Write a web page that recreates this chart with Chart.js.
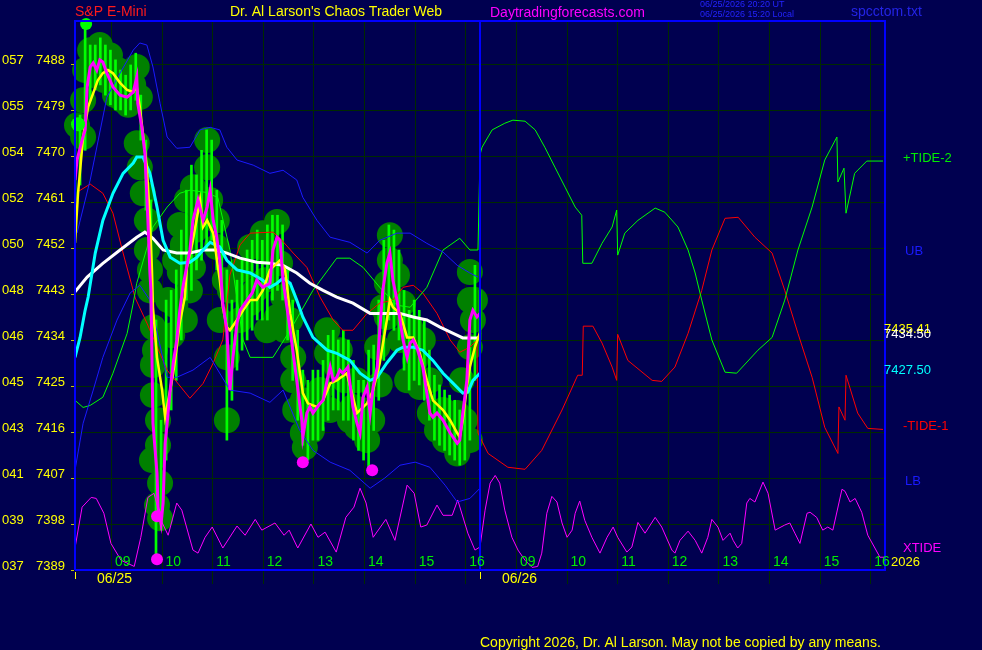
<!DOCTYPE html>
<html>
<head>
<meta charset="utf-8">
<title>S&amp;P E-Mini - Chaos Trader Web</title>
<script src="https://cdn.jsdelivr.net/npm/chart.js@4.4.1/dist/chart.umd.min.js"></script>
<style>
  html, body { margin: 0; padding: 0; background: #000050; overflow: hidden; }
  canvas { display: block; }
</style>
</head>
<body>
<canvas id="chaos" width="982" height="650"></canvas>
<script>
// axis ticks
var priceTicks = [7389, 7398, 7407, 7416, 7425, 7434, 7443, 7452, 7461, 7470, 7479, 7488];
var altTicks = ["037", "039", "041", "043", "045", "046", "048", "050", "052", "054", "055", "057"];
var gridHours = [0.71, 1.71, 2.71, 3.71, 4.71, 5.71, 6.71, 7.71, 8.71, 9.71, 10.71, 11.71, 12.71, 13.71, 14.71, 15.71];
var hourLabels = ["09", "10", "11", "12", "13", "14", "15", "16", "09", "10", "11", "12", "13", "14", "15", "16"];
var dayStarts = [0, 8];
var dayLabels = ["06/25", "06/26"];

// price (magenta), moving averages (yellow, cyan, white)
var closeT = [0.00, 0.04, 0.14, 0.20, 0.24, 0.30, 0.36, 0.43, 0.49, 0.55, 0.63, 0.75, 0.89, 1.03, 1.15, 1.22, 1.24, 1.32, 1.38, 1.44,
  1.48, 1.50, 1.54, 1.62, 1.64, 1.70, 1.74, 1.78, 1.82, 1.88, 1.94, 2.01, 2.07, 2.13, 2.27, 2.33, 2.43, 2.53, 2.61, 2.67,
  2.73, 2.80, 2.86, 2.92, 3.00, 3.06, 3.12, 3.20, 3.26, 3.40, 3.50, 3.59, 3.71, 3.85, 3.91, 3.99, 4.05, 4.11, 4.25, 4.38,
  4.48, 4.50, 4.58, 4.64, 4.70, 4.84, 4.90, 4.98, 5.04, 5.10, 5.17, 5.23, 5.29, 5.39, 5.49, 5.57, 5.63, 5.69, 5.77, 5.83,
  5.89, 5.97, 6.02, 6.08, 6.16, 6.22, 6.28, 6.36, 6.48, 6.56, 6.62, 6.68, 6.75, 6.87, 6.95, 7.01, 7.07, 7.15, 7.27, 7.41,
  7.55, 7.60, 7.66, 7.74, 7.80, 7.86, 7.94, 8.00];
var closeP = [7465.3, 7469.2, 7473.1, 7475.1, 7483.5, 7487.4, 7488.2, 7486.8, 7488.8, 7488.4, 7486.2, 7483.5, 7481.9, 7481.5, 7482.5, 7485.4, 7480.3, 7475.6, 7470.6, 7457.4,
  7447.1, 7443.7, 7417.7, 7407.9, 7401.3, 7398.1, 7402.1, 7413.8, 7417.7, 7424.2, 7429.5, 7434.0, 7439.8, 7444.3, 7451.6, 7457.4, 7461.4, 7457.4, 7460.0, 7463.3,
  7457.4, 7454.1, 7449.6, 7441.2, 7435.9, 7424.2, 7430.6, 7437.3, 7439.8, 7441.8, 7443.2, 7445.7, 7444.3, 7445.1, 7451.6, 7454.1, 7453.5, 7445.7, 7435.9, 7426.1,
  7418.3, 7415.0, 7419.7, 7420.9, 7419.7, 7421.6, 7422.2, 7426.1, 7428.7, 7426.1, 7426.7, 7428.1, 7427.5, 7428.7, 7420.9, 7417.7, 7415.8, 7422.8, 7424.8, 7419.7,
  7424.8, 7428.7, 7435.9, 7443.7, 7449.0, 7451.0, 7445.7, 7441.8, 7434.0, 7430.6, 7433.4, 7434.0, 7432.6, 7428.7, 7423.6, 7419.7, 7418.9, 7419.7, 7418.3, 7415.8,
  7413.8, 7414.4, 7419.7, 7426.1, 7437.9, 7439.8, 7438.5, 7439.2];

var fastT = [0.00, 0.06, 0.16, 0.26, 0.36, 0.45, 0.55, 0.65, 0.75, 0.89, 1.03, 1.15, 1.22, 1.28, 1.34, 1.42, 1.48, 1.52, 1.54, 1.62,
  1.72, 1.78, 1.88, 1.94, 2.01, 2.07, 2.17, 2.21, 2.33, 2.47, 2.53, 2.61, 2.73, 2.86, 2.92, 3.00, 3.06, 3.20, 3.32, 3.46,
  3.59, 3.71, 3.85, 4.05, 4.15, 4.25, 4.38, 4.50, 4.60, 4.78, 4.90, 5.04, 5.17, 5.37, 5.57, 5.77, 5.89, 6.02, 6.16, 6.22,
  6.28, 6.42, 6.56, 6.68, 6.81, 6.95, 7.07, 7.27, 7.41, 7.55, 7.60, 7.66, 7.74, 7.80, 7.90, 8.00];
var fastP = [7453.0, 7462.7, 7473.7, 7479.6, 7482.3, 7484.8, 7486.2, 7486.8, 7486.2, 7484.3, 7482.9, 7482.5, 7483.5, 7479.6, 7474.5, 7467.8, 7457.4, 7447.7, 7440.4, 7430.6,
  7424.2, 7418.9, 7424.2, 7427.5, 7432.6, 7437.3, 7442.4, 7448.2, 7453.5, 7461.4, 7456.1, 7457.4, 7454.9, 7445.7, 7440.4, 7436.5, 7435.9, 7437.9, 7439.8, 7441.8,
  7441.8, 7443.7, 7447.7, 7449.6, 7447.7, 7439.2, 7432.0, 7423.6, 7421.6, 7420.9, 7422.2, 7425.5, 7426.1, 7427.5, 7419.7, 7421.6, 7424.2, 7429.5, 7437.9, 7441.8,
  7440.4, 7439.2, 7434.5, 7434.5, 7431.4, 7426.1, 7422.2, 7420.3, 7418.3, 7415.8, 7415.0, 7418.3, 7424.8, 7428.7, 7432.6, 7435.41];

var midT = [0.00, 0.10, 0.20, 0.26, 0.40, 0.55, 0.75, 0.95, 1.15, 1.22, 1.34, 1.48, 1.62, 1.74, 1.88, 2.07, 2.27, 2.41, 2.53, 2.67,
  2.86, 3.00, 3.20, 3.46, 3.71, 3.85, 3.99, 4.11, 4.25, 4.38, 4.50, 4.70, 4.98, 5.17, 5.43, 5.63, 5.83, 5.97, 6.16, 6.36,
  6.48, 6.68, 6.87, 7.07, 7.27, 7.47, 7.66, 7.76, 7.86, 8.00];
var midP = [7430.6, 7434.5, 7439.8, 7442.4, 7451.0, 7457.4, 7462.7, 7466.6, 7468.6, 7469.8, 7469.8, 7466.6, 7460.0, 7453.5, 7450.2, 7449.0, 7449.2, 7450.2, 7451.6, 7453.1,
  7452.2, 7449.6, 7447.7, 7447.1, 7445.7, 7444.3, 7445.1, 7446.1, 7445.1, 7441.8, 7438.5, 7434.5, 7432.0, 7431.4, 7430.0, 7427.5, 7426.1, 7426.7, 7429.5, 7432.0,
  7432.6, 7432.6, 7432.0, 7430.0, 7427.5, 7425.5, 7423.6, 7423.8, 7426.1, 7427.50];

var slowT = [0.00, 0.24, 0.55, 0.89, 1.22, 1.38, 1.54, 1.74, 2.01, 2.27, 2.53, 2.80, 3.00, 3.26, 3.59, 3.85, 4.11, 4.38, 4.64, 4.90,
  5.17, 5.49, 5.83, 6.08, 6.42, 6.68, 6.95, 7.21, 7.47, 7.66, 7.94, 8.00];
var slowP = [7443.4, 7446.3, 7449.0, 7451.6, 7454.1, 7455.1, 7453.9, 7451.6, 7451.0, 7451.0, 7451.6, 7451.6, 7451.0, 7450.0, 7449.2, 7449.0, 7448.6, 7447.1, 7445.1, 7443.7,
  7442.4, 7441.2, 7439.2, 7439.2, 7439.2, 7438.5, 7437.9, 7436.5, 7435.3, 7434.4, 7434.4, 7434.50];

// price bars (high / low)
var barT = [0.0, 0.1, 0.2, 0.3, 0.4, 0.5, 0.6, 0.7, 0.8, 0.9, 1.0, 1.1, 1.2, 1.3, 1.4, 1.5, 1.6, 1.7, 1.8, 1.9,
  2.0, 2.1, 2.2, 2.3, 2.4, 2.5, 2.6, 2.7, 2.8, 2.9, 3.0, 3.1, 3.2, 3.3, 3.4, 3.5, 3.6, 3.7, 3.8, 3.9,
  4.0, 4.1, 4.2, 4.3, 4.4, 4.5, 4.6, 4.7, 4.8, 4.9, 5.0, 5.1, 5.2, 5.3, 5.4, 5.5, 5.6, 5.7, 5.8, 5.9,
  6.0, 6.1, 6.2, 6.3, 6.4, 6.5, 6.6, 6.7, 6.8, 6.9, 7.0, 7.1, 7.2, 7.3, 7.4, 7.5, 7.6, 7.7, 7.8, 7.9, 8.0];
var barHigh = [7477.0, 7478.0, 7495.4, 7491.7, 7491.7, 7493.1, 7491.7, 7490.7, 7488.8, 7486.8, 7485.8, 7487.8, 7490.1, 7481.9, 7473.1, 7461.4, 7437.9, 7418.3, 7441.8, 7443.7,
  7447.7, 7455.5, 7463.3, 7468.2, 7466.3, 7471.1, 7475.1, 7473.1, 7463.3, 7457.4, 7447.7, 7441.8, 7445.7, 7449.6, 7451.6, 7453.5, 7455.5, 7453.5, 7456.5, 7458.4,
  7458.4, 7456.5, 7447.7, 7441.8, 7435.9, 7428.1, 7426.1, 7428.1, 7428.1, 7430.0, 7434.9, 7435.9, 7434.0, 7435.9, 7434.0, 7430.0, 7426.1, 7426.1, 7432.0, 7433.0,
  7441.8, 7453.5, 7456.5, 7455.5, 7451.6, 7443.7, 7439.8, 7441.8, 7439.8, 7437.9, 7432.0, 7427.1, 7425.2, 7424.2, 7423.2, 7422.2, 7420.3, 7422.2, 7435.9, 7448.6, 7443.7];
var barLow = [7461.4, 7464.3, 7471.1, 7480.9, 7482.9, 7483.9, 7481.9, 7480.0, 7479.0, 7479.0, 7478.0, 7479.0, 7480.9, 7473.1, 7459.4, 7437.9, 7391.1, 7396.8, 7410.5, 7420.3,
  7426.1, 7434.0, 7441.8, 7443.7, 7447.7, 7449.6, 7451.6, 7453.5, 7447.7, 7441.8, 7414.4, 7422.2, 7428.1, 7432.0, 7434.0, 7435.9, 7437.9, 7437.9, 7437.9, 7441.8,
  7443.7, 7441.8, 7434.0, 7426.1, 7418.3, 7413.4, 7410.5, 7414.4, 7414.4, 7416.3, 7418.3, 7420.3, 7420.3, 7418.3, 7418.3, 7414.4, 7412.4, 7410.5, 7408.9, 7416.3,
  7422.2, 7430.0, 7437.9, 7435.9, 7434.0, 7428.1, 7424.2, 7426.1, 7425.2, 7422.2, 7418.3, 7414.4, 7413.4, 7412.4, 7411.5, 7410.5, 7409.5, 7410.5, 7414.4, 7426.1, 7434.0];

// chaos clusters (dark green blobs)
var blobT = [0.04, 0.16, 0.20, 0.30, 0.49, 0.69, 0.85, 0.95, 1.22, 1.28, 1.22, 1.28, 1.34, 1.42, 1.42, 1.48, 1.54, 1.54, 1.54, 1.64,
  1.64, 1.68, 1.62, 1.68, 1.98, 1.92, 2.07, 2.33, 2.13, 2.07, 2.21, 2.33, 2.61, 2.61, 2.80, 2.80, 2.86, 3.00, 3.00, 3.06,
  3.46, 3.46, 3.71, 3.85, 3.79, 3.99, 3.99, 4.05, 4.11, 4.25, 4.31, 4.31, 4.50, 4.50, 4.54, 4.74, 4.98, 4.98, 5.17, 5.33,
  5.57, 5.49, 5.57, 5.77, 5.87, 5.97, 6.08, 6.16, 6.22, 6.22, 6.36, 6.16, 6.48, 6.62, 6.87, 6.56, 6.81, 7.01, 7.15, 7.27,
  7.55, 7.55, 7.55, 7.80, 7.80, 7.80, 7.86, 7.80, 4.84, 4.64, 0.40, 0.59, 0.79, 1.05, 1.15, 0.49, 0.16, 1.48, 1.58, 1.52,
  1.84, 2.17, 2.37, 2.47, 2.27, 1.98, 2.67, 2.96, 3.26, 3.26, 3.56, 3.75, 4.15, 4.35, 4.68, 5.04, 5.23, 5.43, 5.67, 6.02,
  6.32, 6.42, 6.72, 7.01, 7.31, 7.70, 7.90, 7.64];
var blobP = [7476.0, 7473.7, 7486.8, 7490.7, 7491.7, 7489.7, 7486.8, 7480.9, 7487.4, 7481.5, 7472.5, 7467.8, 7462.7, 7457.4, 7451.6, 7443.7, 7436.5, 7429.1, 7423.2, 7418.3,
  7413.4, 7406.0, 7401.7, 7399.1, 7440.8, 7434.9, 7447.3, 7448.2, 7452.6, 7456.5, 7461.4, 7463.9, 7473.1, 7467.8, 7457.4, 7452.2, 7437.9, 7430.6, 7418.3, 7443.7,
  7452.2, 7441.2, 7454.9, 7451.0, 7435.9, 7438.5, 7457.1, 7449.0, 7442.4, 7437.9, 7430.6, 7426.1, 7422.2, 7415.8, 7413.0, 7422.2, 7435.9, 7431.4, 7428.7, 7426.1,
  7426.1, 7420.9, 7416.9, 7414.4, 7418.3, 7432.6, 7440.4, 7445.1, 7454.5, 7449.6, 7446.7, 7438.5, 7441.2, 7436.5, 7434.0, 7426.1, 7424.8, 7419.7, 7416.4, 7420.3,
  7419.7, 7415.8, 7411.8, 7414.4, 7447.3, 7441.8, 7437.9, 7432.6, 7424.2, 7419.1, 7485.8, 7484.8, 7481.9, 7480.0, 7483.9, 7488.8, 7480.9, 7447.7, 7432.0, 7410.5,
  7441.8, 7437.9, 7455.5, 7459.4, 7443.7, 7449.6, 7461.4, 7445.7, 7447.7, 7437.9, 7443.7, 7445.7, 7435.9, 7420.3, 7416.3, 7420.3, 7432.0, 7418.3, 7420.3, 7425.3,
  7441.8, 7434.0, 7430.0, 7426.1, 7414.4, 7418.3, 7441.8, 7426.1];

// turning-point dots
var lowDotT = [1.62, 1.62, 4.50, 5.87];
var lowDotP = [7399.5, 7391.1, 7410.1, 7408.5];
var highDotT = [0.22, 0.06];
var highDotP = [7495.8, 7476.2];

// upper / lower bands
var ubT = [0.04, 0.30, 0.63, 0.89, 1.15, 1.28, 1.42, 1.54, 1.68, 1.82, 2.01, 2.27, 2.47, 2.67, 2.86, 3.00, 3.20, 3.52, 3.85, 4.11,
  4.38, 4.50, 4.78, 5.04, 5.43, 5.77, 6.02, 6.36, 6.62, 6.95, 7.27, 7.55, 7.80, 7.96];
var ubP = [7454.9, 7465.3, 7481.5, 7486.2, 7490.7, 7492.1, 7491.7, 7487.4, 7480.3, 7473.7, 7471.5, 7471.7, 7475.1, 7475.6, 7475.1, 7471.7, 7469.2, 7468.2, 7466.6, 7467.2,
  7465.3, 7461.9, 7457.4, 7454.1, 7453.1, 7451.0, 7453.5, 7454.9, 7454.9, 7452.9, 7451.2, 7448.6, 7447.1, 7446.3];
var lbT = [0.00, 0.16, 0.36, 0.55, 0.83, 1.09, 1.28, 1.48, 1.82, 2.01, 2.33, 2.67, 3.06, 3.46, 3.85, 4.11, 4.44, 4.70, 5.04, 5.43,
  5.83, 6.12, 6.42, 6.72, 7.01, 7.31, 7.55, 7.80, 8.00];
var lbP = [7408.5, 7417.7, 7424.2, 7430.6, 7437.9, 7443.2, 7444.7, 7441.8, 7426.7, 7426.7, 7428.1, 7430.6, 7424.2, 7423.6, 7421.8, 7424.2, 7416.3, 7412.4, 7410.1, 7408.5,
  7405.0, 7407.0, 7409.5, 7410.1, 7409.1, 7405.6, 7402.3, 7403.0, 7405.0];

// tides
var tide2T = [0.00, 0.16, 0.30, 0.55, 0.75, 1.03, 1.15, 1.22, 1.54, 1.82, 2.07, 2.27, 2.57, 2.82, 3.06, 3.32, 3.46, 3.91, 4.25, 4.70,
  5.17, 5.43, 5.69, 6.02, 6.36, 6.62, 6.95, 7.27, 7.60, 7.80, 7.96, 7.98, 8.00, 8.04, 8.24, 8.49, 8.65, 8.89, 9.09, 9.28,
  9.48, 9.68, 9.88, 10.01, 10.03, 10.21, 10.41, 10.61, 10.70, 10.72, 10.86, 11.12, 11.46, 11.65, 11.91, 12.11, 12.25, 12.38, 12.58, 12.84,
  13.07, 13.49, 13.77, 14.02, 14.28, 14.56, 14.81, 15.05, 15.07, 15.19, 15.23, 15.40, 15.64, 15.96];
var tide2P = [7422.2, 7420.8, 7421.2, 7422.8, 7427.5, 7435.3, 7441.2, 7445.1, 7456.1, 7460.0, 7462.7, 7463.3, 7462.9, 7461.9, 7451.6, 7434.0, 7430.6, 7430.6, 7435.9, 7443.7,
  7450.0, 7450.0, 7448.2, 7444.3, 7440.8, 7440.4, 7444.3, 7451.6, 7453.9, 7451.6, 7451.6, 7460.8, 7470.2, 7471.7, 7475.1, 7476.4, 7477.0, 7476.8, 7475.1, 7471.7,
  7467.8, 7463.9, 7460.0, 7458.4, 7449.0, 7449.0, 7452.9, 7456.1, 7459.4, 7450.6, 7454.9, 7457.4, 7459.8, 7459.0, 7456.1, 7451.6, 7447.1, 7441.8, 7434.0, 7427.7,
  7427.5, 7432.0, 7434.5, 7441.8, 7451.6, 7460.0, 7469.2, 7473.7, 7464.9, 7467.6, 7458.8, 7466.6, 7469.0, 7469.0];
var tide1T = [0.04, 0.30, 0.55, 0.75, 0.95, 1.19, 1.42, 1.82, 2.27, 2.53, 2.73, 2.92, 3.06, 3.26, 3.46, 3.91, 4.05, 4.31, 4.58, 4.84,
  5.10, 5.29, 5.49, 5.77, 6.02, 6.28, 6.48, 6.68, 6.87, 7.15, 7.41, 7.60, 7.80, 7.94, 7.96, 8.16, 8.55, 8.89, 9.22, 9.62,
  9.93, 10.02, 10.04, 10.23, 10.41, 10.61, 10.70, 10.72, 10.92, 11.40, 11.59, 11.85, 12.11, 12.38, 12.58, 12.84, 13.10, 13.43, 13.77, 14.02,
  14.28, 14.56, 14.81, 15.07, 15.09, 15.21, 15.23, 15.46, 15.66, 15.96];
var tide1P = [7462.9, 7464.5, 7462.7, 7458.8, 7451.0, 7442.2, 7437.3, 7428.1, 7422.6, 7425.5, 7429.5, 7434.0, 7446.7, 7452.6, 7454.9, 7455.1, 7453.9, 7451.0, 7448.2, 7442.4,
  7437.9, 7435.9, 7435.9, 7439.2, 7441.2, 7441.8, 7444.3, 7444.7, 7443.2, 7439.2, 7434.0, 7431.6, 7432.6, 7434.0, 7415.8, 7411.8, 7409.1, 7408.7, 7412.4, 7420.3,
  7427.1, 7427.1, 7436.7, 7436.7, 7433.4, 7428.7, 7426.1, 7435.1, 7430.0, 7426.1, 7425.9, 7428.7, 7435.3, 7443.7, 7451.6, 7457.8, 7458.0, 7454.1, 7451.0, 7443.7,
  7435.3, 7426.7, 7416.9, 7411.8, 7420.9, 7418.3, 7427.1, 7419.7, 7416.7, 7416.5];
var xtideT = [0.00, 0.14, 0.32, 0.42, 0.57, 0.71, 0.91, 1.17, 1.30, 1.44, 1.56, 1.70, 1.84, 2.01, 2.11, 2.33, 2.43, 2.57, 2.71, 2.92,
  3.20, 3.36, 3.56, 3.69, 3.95, 4.13, 4.23, 4.40, 4.66, 4.80, 4.94, 5.16, 5.35, 5.51, 5.63, 5.75, 5.89, 6.14, 6.32, 6.56,
  6.70, 6.83, 6.95, 7.15, 7.27, 7.45, 7.56, 7.76, 7.90, 8.00, 8.10, 8.20, 8.30, 8.39, 8.49, 8.63, 8.75, 8.89, 9.03, 9.14,
  9.22, 9.32, 9.42, 9.52, 9.62, 9.72, 9.82, 9.88, 9.97, 10.07, 10.21, 10.37, 10.51, 10.63, 10.72, 10.90, 11.00, 11.12, 11.26, 11.46,
  11.59, 11.79, 11.85, 11.95, 12.11, 12.25, 12.38, 12.50, 12.58, 12.70, 12.80, 12.94, 13.00, 13.09, 13.17, 13.27, 13.33, 13.43, 13.59, 13.69,
  13.83, 14.02, 14.12, 14.22, 14.32, 14.46, 14.52, 14.65, 14.77, 14.87, 14.97, 15.15, 15.21, 15.31, 15.41, 15.54, 15.66, 15.80, 15.90, 15.98];
var xtideP = [7393.3, 7401.3, 7403.2, 7403.0, 7400.1, 7394.2, 7390.9, 7389.7, 7395.4, 7403.2, 7404.0, 7398.7, 7395.8, 7402.1, 7400.7, 7392.9, 7392.3, 7395.4, 7397.4, 7393.3,
  7397.6, 7395.8, 7398.9, 7396.8, 7398.2, 7395.8, 7396.8, 7393.3, 7398.0, 7395.4, 7396.4, 7392.5, 7399.3, 7401.3, 7405.0, 7402.1, 7395.4, 7398.9, 7394.8, 7405.6,
  7404.0, 7397.4, 7397.8, 7401.7, 7399.7, 7399.7, 7402.7, 7396.2, 7392.9, 7393.5, 7400.7, 7406.0, 7407.5, 7406.0, 7400.7, 7395.4, 7392.9, 7390.9, 7389.5, 7389.7,
  7392.3, 7400.1, 7403.4, 7402.3, 7398.2, 7395.4, 7396.8, 7400.1, 7402.5, 7398.7, 7395.4, 7392.3, 7395.4, 7397.4, 7395.4, 7392.5, 7393.5, 7398.3, 7396.2, 7399.3,
  7397.4, 7392.9, 7392.3, 7394.8, 7396.6, 7394.8, 7392.3, 7395.4, 7398.9, 7397.4, 7394.8, 7396.2, 7394.8, 7393.3, 7394.2, 7402.1, 7403.0, 7402.3, 7406.2, 7404.0,
  7396.8, 7397.8, 7398.2, 7396.2, 7394.2, 7400.1, 7400.3, 7399.3, 7396.8, 7397.4, 7396.8, 7404.8, 7404.4, 7402.3, 7403.0, 7400.3, 7395.8, 7393.3, 7391.5, 7391.5];

function pairs(ts, ps) {
    return ts.map(function (t, i) { return { x: t, y: ps[i] }; });
}

function thinLine(ts, ps, color, width, order) {
    return {
        type: "line",
        data: pairs(ts, ps),
        borderColor: color,
        borderWidth: width,
        pointRadius: 0,
        tension: 0,
        order: order,
    };
}

var FONT = '"Liberation Sans", Arial, sans-serif';

function put(ctx, str, x, y, color, size, align) {
    ctx.font = size + "px " + FONT;
    ctx.fillStyle = color;
    ctx.textAlign = align || "left";
    ctx.textBaseline = "middle";
    ctx.fillText(str, x, y);
}

var chaosDecor = {
    id: "chaosDecor",
    beforeDraw: function (chart) {
        var ctx = chart.ctx;
        ctx.save();
        ctx.fillStyle = "#000050";
        ctx.fillRect(0, 0, chart.width, chart.height);
        ctx.restore();
    },
    beforeDatasetsDraw: function (chart) {
        var ctx = chart.ctx, a = chart.chartArea;
        var xs = chart.scales.x, ys = chart.scales.y;
        ctx.save();
        ctx.strokeStyle = "#002a00";
        ctx.lineWidth = 1;
        priceTicks.forEach(function (p) {
            var y = Math.round(ys.getPixelForValue(p)) + 0.5;
            ctx.beginPath();
            ctx.moveTo(a.left, y);
            ctx.lineTo(a.right, y);
            ctx.stroke();
        });
        gridHours.forEach(function (h) {
            var x = Math.round(xs.getPixelForValue(h)) + 0.5;
            ctx.beginPath();
            ctx.moveTo(x, a.top);
            ctx.lineTo(x, a.bottom + 14);
            ctx.stroke();
        });
        ctx.restore();
    },
    afterDatasetsDraw: function (chart) {
        var ctx = chart.ctx, a = chart.chartArea;
        var xs = chart.scales.x, ys = chart.scales.y;
        ctx.save();
        // frame + day divider
        ctx.strokeStyle = "#0000ff";
        ctx.lineWidth = 2;
        ctx.beginPath();
        ctx.moveTo(a.left, a.bottom);
        ctx.lineTo(a.left, a.top);
        ctx.lineTo(a.right, a.top);
        ctx.lineTo(a.right, a.bottom);
        ctx.lineTo(a.left, a.bottom);
        var dx = xs.getPixelForValue(dayStarts[1]);
        ctx.moveTo(dx, a.top);
        ctx.lineTo(dx, a.bottom);
        ctx.stroke();

        // left price labels
        priceTicks.forEach(function (p, i) {
            var y = ys.getPixelForValue(p);
            put(ctx, altTicks[i], 2, y - 4, "#ffff00", 13);
            put(ctx, String(p), 36, y - 4, "#ffff00", 13);
            ctx.fillStyle = "#c8c800";
            ctx.fillRect(a.left - 4, Math.round(y), 3, 1);
        });

        // hour labels
        gridHours.forEach(function (h, i) {
            put(ctx, hourLabels[i], xs.getPixelForValue(h) + 4, a.bottom - 8, "#00ee00", 14);
        });

        // day labels and ticks
        dayStarts.forEach(function (d, i) {
            var x = xs.getPixelForValue(d);
            ctx.fillStyle = "#ffff00";
            ctx.fillRect(Math.round(x), a.bottom + 2, 1, 7);
            put(ctx, dayLabels[i], x + 22, a.bottom + 9, "#ffff00", 14);
        });

        // right side labels
        var side = [
            ["+TIDE-2", tide2P[tide2P.length - 1], "#00ee00", a.right + 18],
            ["UB", 7450.8, "#1a1aff", a.right + 20],
            ["7435.41", fastP[fastP.length - 1], "#ffff00", a.right - 1],
            ["7434.50", slowP[slowP.length - 1], "#ffffff", a.right - 1],
            ["7427.50", midP[midP.length - 1], "#00ffff", a.right - 1],
            ["-TIDE-1", tide1P[tide1P.length - 1], "#ff0000", a.right + 18],
            ["LB", 7405.8, "#1a1aff", a.right + 20],
            ["XTIDE", 7392.6, "#ff00ff", a.right + 18],
        ];
        side.forEach(function (s) {
            put(ctx, s[0], s[3], ys.getPixelForValue(s[1]) - 3, s[2], 13);
        });
        put(ctx, "2026", a.right + 6, a.bottom - 8, "#ffff00", 13);

        // header
        put(ctx, "S&P E-Mini", 75, 12, "#ff1a1a", 14);
        put(ctx, "Dr. Al Larson's Chaos Trader Web", 230, 12, "#ffff00", 14);
        put(ctx, "Daytradingforecasts.com", 490, 13, "#ff00ff", 14);
        put(ctx, "06/25/2026 20:20 UT", 700, 5, "#2323ff", 9);
        put(ctx, "06/25/2026 15:20 Local", 700, 15, "#2323ff", 9);
        put(ctx, "spcctom.txt", 851, 12, "#2323e6", 14);

        // footer
        put(ctx, "Copyright 2026, Dr. Al Larson. May not be copied by any means.", 480, 643, "#ffff00", 14);
        ctx.restore();
    },
};

var ctx = document.getElementById("chaos").getContext("2d");
var chaosChart = new Chart(ctx, {
    type: "line",
    data: {
        datasets: [
            {
                type: "scatter",
                data: pairs(lowDotT, lowDotP),
                backgroundColor: "#ff00ff",
                borderWidth: 0,
                pointRadius: 6,
                order: 0,
                clip: false,
            },
            {
                type: "scatter",
                data: pairs(highDotT, highDotP),
                backgroundColor: "#00ff00",
                borderWidth: 0,
                pointRadius: [6, 7],
                order: 0,
                clip: false,
            },
            thinLine(closeT, closeP, "#ff00ff", 3, 1),
            thinLine(fastT, fastP, "#ffff00", 2.5, 2),
            thinLine(midT, midP, "#00ffff", 3, 3),
            thinLine(slowT, slowP, "#ffffff", 3, 4),
            thinLine(ubT, ubP, "#1a1aff", 1, 6),
            thinLine(lbT, lbP, "#1a1aff", 1, 6),
            thinLine(tide2T, tide2P, "#00ff00", 1, 6),
            thinLine(tide1T, tide1P, "#ff0000", 1, 6),
            thinLine(xtideT, xtideP, "#ff00ff", 1, 6),
            {
                type: "bar",
                data: barT.map(function (t, i) { return { x: t, y: [barLow[i], barHigh[i]] }; }),
                backgroundColor: "#00ff00",
                borderWidth: 0,
                barThickness: 2,
                grouped: false,
                order: 8,
            },
            {
                type: "scatter",
                data: pairs(blobT, blobP),
                backgroundColor: "#008000",
                borderWidth: 0,
                pointRadius: 13,
                order: 9,
                clip: false,
            },
        ],
    },
    options: {
        responsive: false,
        animation: false,
        events: [],
        layout: {
            padding: { left: 75, top: 21, right: 97, bottom: 80 },
        },
        plugins: {
            legend: { display: false },
            tooltip: { enabled: false },
        },
        scales: {
            x: {
                type: "linear",
                display: false,
                min: 0,
                max: 16,
                offset: false,
            },
            y: {
                type: "linear",
                display: false,
                min: 7389,
                max: 7496.4,
            },
        },
    },
    plugins: [chaosDecor],
});
</script>
</body>
</html>
